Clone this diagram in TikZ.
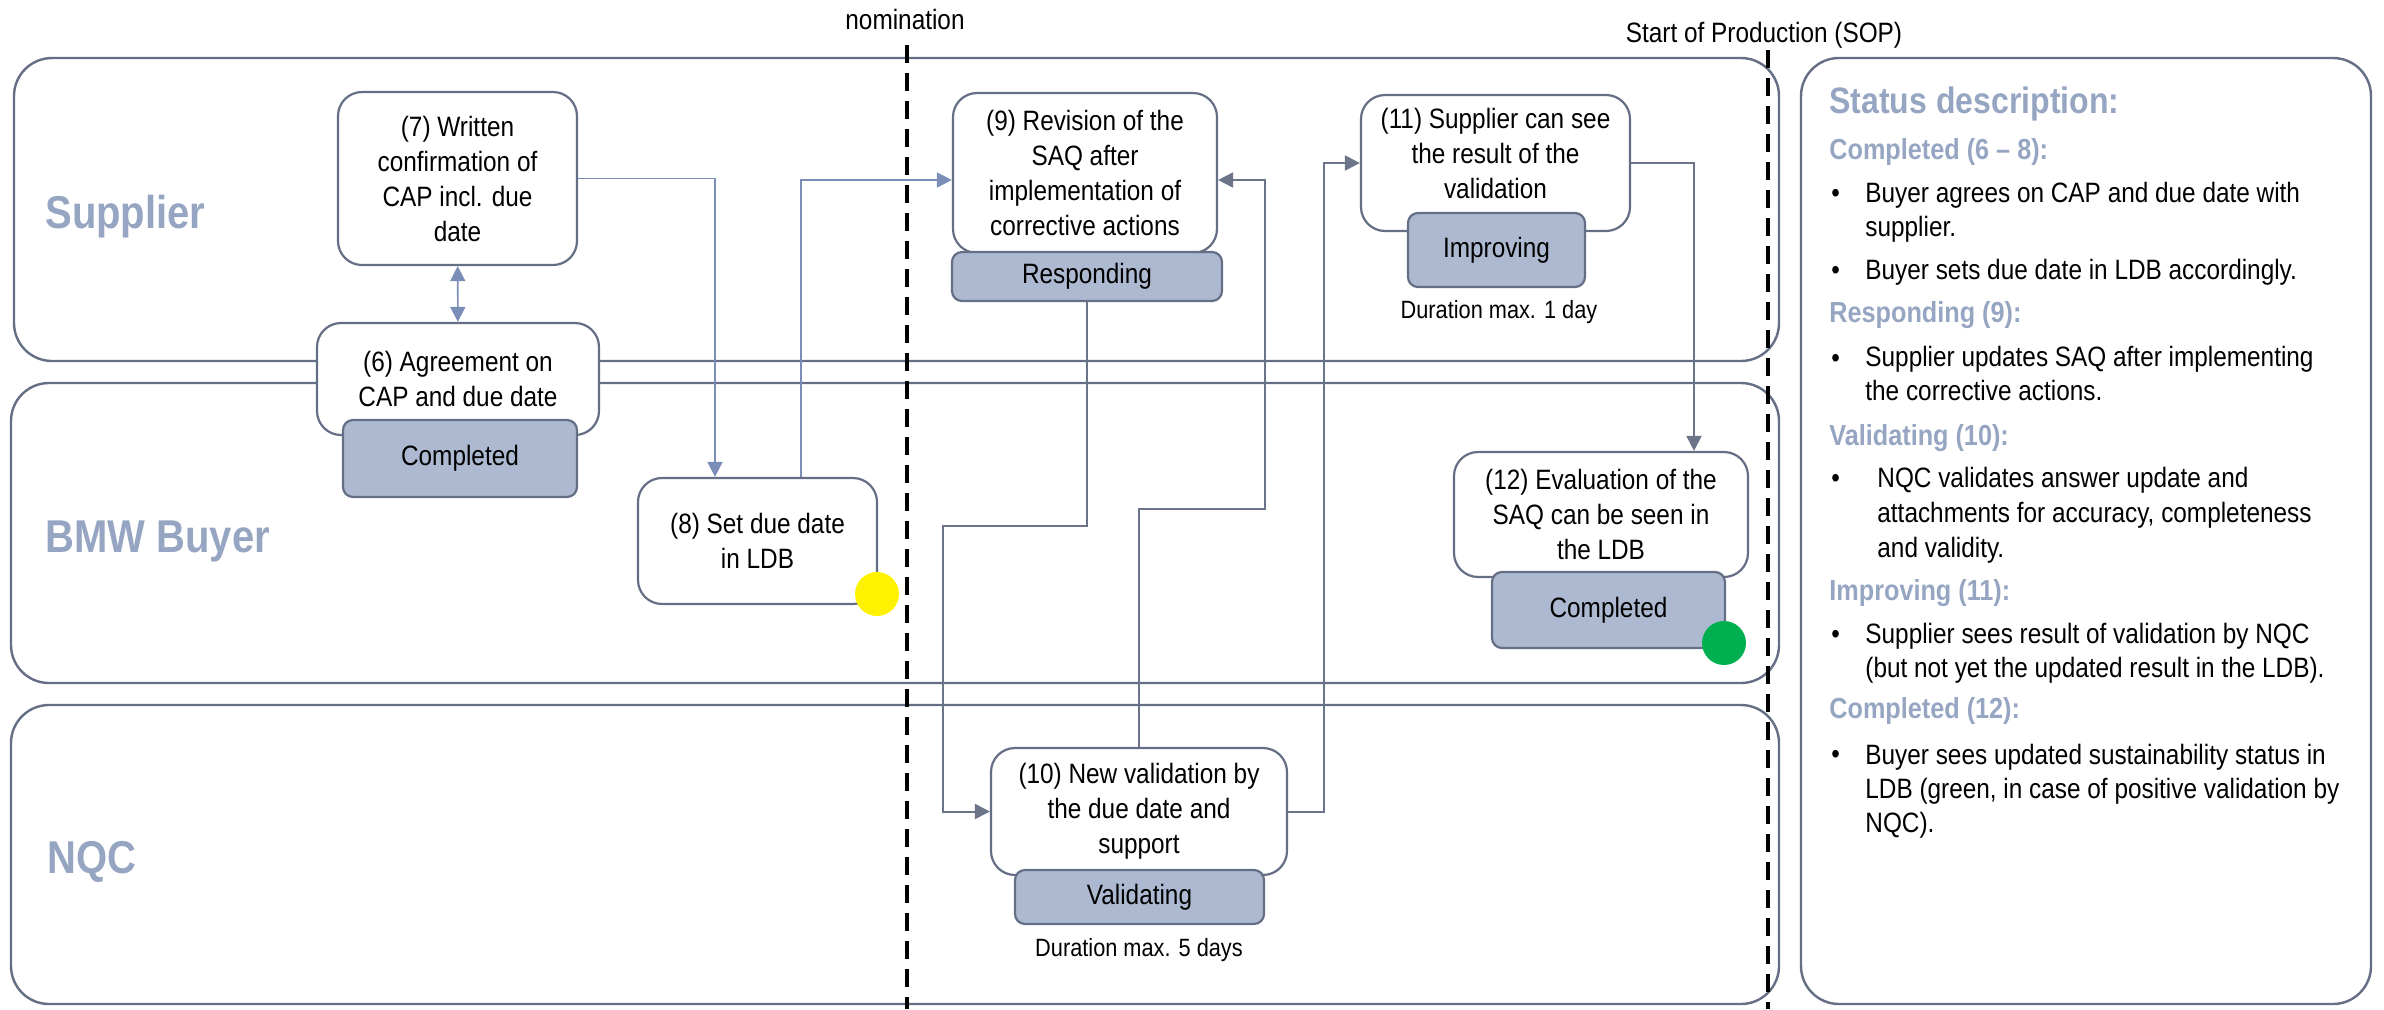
\documentclass[tikz,border=0pt]{standalone}
\usepackage{fontspec}
\setmainfont{Liberation Sans}[FakeStretch=0.87]
\usetikzlibrary{arrows.meta}

\definecolor{LaneGray}{HTML}{646E84}
\definecolor{StatusBlue}{HTML}{ADB9D0}
\definecolor{LabelBlue}{HTML}{96A6C2}
\definecolor{LinkGray}{HTML}{6B7488}
\definecolor{LinkBlue}{HTML}{7B8EB8}
\definecolor{DotGreen}{HTML}{00B050}

\begin{document}
\begin{tikzpicture}[x=0.5pt,y=-0.5pt]
  \tikzset{LaneStyle/.style = {
    draw            = LaneGray,
    line width      = 1.2pt,
    rounded corners = 19pt
    }
  }
  \tikzset{LaneLabelStyle/.style = {
    anchor        = base west,
    inner sep     = 0pt,
    text          = LabelBlue,
    font          = \bfseries\fontsize{23}{27}\selectfont
    }
  }
  \tikzset{MileStyle/.style = {
    draw          = black,
    line width    = 1.75pt,
    dash pattern  = on 9pt off 5pt
    }
  }
  \tikzset{ProcStyle/.style = {
    shape           = rectangle,
    rounded corners = 12pt,
    draw            = LaneGray,
    fill            = white,
    line width      = 1.1pt,
    text            = black,
    align           = center,
    inner sep       = 0pt,
    font            = \fontsize{14}{17.5}\selectfont
    }
  }
  \tikzset{StatusStyle/.style = {
    shape           = rectangle,
    rounded corners = 5pt,
    draw            = LaneGray,
    fill            = StatusBlue,
    line width      = 1.1pt,
    text            = black,
    inner sep       = 0pt,
    font            = \fontsize{14}{17.5}\selectfont
    }
  }
  \tikzset{NoteStyle/.style = {
    inner sep     = 0pt,
    text          = black,
    font          = \fontsize{12.5}{15}\selectfont
    }
  }
  \tikzset{LinkStyle/.style = {
    draw          = LinkGray,
    line width    = 1pt,
    -{Triangle[length=7.5pt,width=7.5pt]}
    }
  }
  \tikzset{LightLinkStyle/.style = {
    draw          = LinkBlue,
    line width    = 0.8pt,
    -{Triangle[length=7.5pt,width=7.5pt]}
    }
  }
  \tikzset{DotStyle/.style = {
    shape         = circle,
    inner sep     = 0pt,
    minimum size  = 22pt
    }
  }
  \tikzset{DescTitleStyle/.style = {
    anchor        = base west,
    inner sep     = 0pt,
    text          = LabelBlue,
    font          = \bfseries\fontsize{18.4}{22}\selectfont
    }
  }
  \tikzset{DescHeadStyle/.style = {
    anchor        = base west,
    inner sep     = 0pt,
    text          = LabelBlue,
    font          = \bfseries\fontsize{14.5}{17}\selectfont
    }
  }
  \tikzset{DescTextStyle/.style = {
    anchor        = base west,
    inner sep     = 0pt,
    align         = left,
    text          = black,
    font          = \fontsize{14}{17}\selectfont
    }
  }

  \useasboundingbox (0,0) rectangle (2384,1009);

  \draw[LaneStyle] (14, 58) rectangle (1779, 361);
  \draw[LaneStyle] (11, 383) rectangle (1779, 683);
  \draw[LaneStyle] (11, 705) rectangle (1779, 1004);
  \draw[LaneStyle] (1801, 58) rectangle (2371, 1004);

  \node[LaneLabelStyle](LSupplier) at (45, 228) {Supplier};
  \node[LaneLabelStyle](LBuyer) at (45, 552) {BMW Buyer};
  \node[LaneLabelStyle](LNQC) at (47, 873) {NQC};

  \node[NoteStyle, font=\fontsize{14}{17}\selectfont, anchor=base](MNom) at (905, 29) {nomination};
  \node[NoteStyle, font=\fontsize{14}{17}\selectfont, anchor=base](MSop) at (1764, 42) {Start of Production (SOP)};
  \draw[MileStyle] (907, 45) -- (907, 1009);
  \draw[MileStyle] (1768, 50) -- (1768, 1009);

  \node[ProcStyle, minimum width=119.5pt, minimum height=86.5pt](P7) at (457.5, 178.5) {(7) Written\\confirmation of\\CAP incl. due\\date};
  \node[ProcStyle, minimum width=141pt, minimum height=56pt](P6) at (458, 379) {(6) Agreement on\\CAP and due date};
  \node[StatusStyle, minimum width=117pt, minimum height=38.5pt](S6) at (460, 458.5) {Completed};
  \node[ProcStyle, minimum width=119.5pt, minimum height=63pt](P8) at (757.5, 541) {(8) Set due date\\in LDB};
  \node[ProcStyle, minimum width=132pt, minimum height=80pt](P9) at (1085, 173) {(9) Revision of the\\SAQ after\\implementation of\\corrective actions};
  \node[StatusStyle, minimum width=135pt, minimum height=24.5pt](S9) at (1087, 276.5) {Responding};
  \node[ProcStyle, minimum width=134.5pt, minimum height=68pt, text depth=10pt](P11) at (1495.5, 163) {(11) Supplier can see\\the result of the\\validation};
  \node[StatusStyle, minimum width=88.5pt, minimum height=37pt](S11) at (1496.5, 250) {Improving};
  \node[NoteStyle](D11) at (1499, 312) {Duration max. 1 day};
  \node[ProcStyle, minimum width=147pt, minimum height=62.5pt](P12) at (1601, 514.5) {(12) Evaluation of the\\SAQ can be seen in\\the LDB};
  \node[StatusStyle, minimum width=116.5pt, minimum height=38pt](S12) at (1608.5, 610) {Completed};
  \node[ProcStyle, minimum width=148pt, minimum height=63.5pt](P10) at (1139, 811.5) {(10) New validation by\\the due date and\\support};
  \node[StatusStyle, minimum width=124.5pt, minimum height=27pt](S10) at (1139.5, 897) {Validating};
  \node[NoteStyle](D10) at (1139, 950) {Duration max. 5 days};

  \coordinate (C1) at (943, 526);
  \coordinate (C2) at (1265, 509);
  \coordinate (C3) at (1324, 490);

  \draw[LightLinkStyle, {Triangle[length=7.5pt,width=7.5pt]}-{Triangle[length=7.5pt,width=7.5pt]}](P7) -- (P6);
  \draw[LightLinkStyle](P7.east) -| ([xshift=-21.25pt]P8.north);
  \draw[LightLinkStyle]([xshift=21.75pt]P8.north) |- ([yshift=-3.5pt]P9.west);
  \draw[LinkStyle](S9.south) |- (C1) |- (P10.west);
  \draw[LinkStyle](P10.north) |- (C2) |- ([yshift=-3.5pt]P9.east);
  \draw[LinkStyle](P10.east) -| (C3) |- (P11.west);
  \draw[LinkStyle](P11.east) -| ([xshift=46.5pt]P12.north);

  \node[DotStyle, fill=yellow](Y8) at (877, 594) {};
  \node[DotStyle, fill=DotGreen](G12) at (1724, 643) {};

  \node[DescTitleStyle](DTitle) at (1829, 113) {Status description:};
  \node[DescHeadStyle](DH1) at (1829, 159) {Completed (6 -- 8):};
  \node[DescTextStyle](DB1) at (1831, 202) {\textbullet};
  \node[DescTextStyle](DT1) at (1865, 236) {Buyer agrees on CAP and due date with\\supplier.};
  \node[DescTextStyle](DB2) at (1831, 279) {\textbullet};
  \node[DescTextStyle](DT2) at (1865, 279) {Buyer sets due date in LDB accordingly.};
  \node[DescHeadStyle](DH2) at (1829, 322) {Responding (9):};
  \node[DescTextStyle](DB3) at (1831, 367) {\textbullet};
  \node[DescTextStyle](DT3) at (1865, 400) {Supplier updates SAQ after implementing\\the corrective actions.};
  \node[DescHeadStyle](DH3) at (1829, 445) {Validating (10):};
  \node[DescTextStyle](DB4) at (1831, 487) {\textbullet};
  \node[DescTextStyle, font=\fontsize{14}{17.5}\selectfont](DT4) at (1877, 557) {NQC validates answer update and\\attachments for accuracy, completeness\\and validity.};
  \node[DescHeadStyle](DH4) at (1829, 600) {Improving (11):};
  \node[DescTextStyle](DB5) at (1831, 643) {\textbullet};
  \node[DescTextStyle](DT5) at (1865, 677) {Supplier sees result of validation by NQC\\(but not yet the updated result in the LDB).};
  \node[DescHeadStyle](DH5) at (1829, 718) {Completed (12):};
  \node[DescTextStyle](DB6) at (1831, 763) {\textbullet};
  \node[DescTextStyle](DT6) at (1865, 832) {Buyer sees updated sustainability status in\\LDB (green, in case of positive validation by\\NQC).};

  \end{tikzpicture}
\end{document}
